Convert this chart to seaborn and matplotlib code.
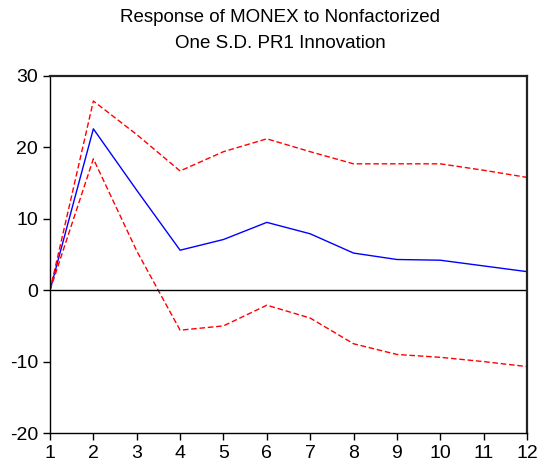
import matplotlib
matplotlib.use("Agg")
import matplotlib.pyplot as plt
import seaborn as sns
import pandas as pd

periods = [1, 2, 3, 4, 5, 6, 7, 8, 9, 10, 11, 12]
response = [0.0, 22.6, 14.0, 5.6, 7.1, 9.5, 7.9, 5.2, 4.3, 4.2, 3.4, 2.6]
upper = [0.0, 26.5, 21.8, 16.7, 19.4, 21.2, 19.4, 17.7, 17.7, 17.7, 16.8, 15.8]
lower = [0.0, 18.4, 5.5, -5.6, -5.0, -2.1, -3.9, -7.5, -9.0, -9.4, -10.0, -10.7]
yticks = [-20, -10, 0, 10, 20, 30]

df = pd.DataFrame({"period": periods, "response": response, "upper": upper, "lower": lower})

sns.set_style("white")
plt.rcParams["font.family"] = ["Liberation Sans", "DejaVu Sans"]
plt.rcParams["axes.unicode_minus"] = False
plt.rcParams["text.color"] = "black"

fig = plt.figure(figsize=(5.39, 4.66), dpi=100)
ax = fig.add_axes([50 / 539, 1 - 433 / 466, 477 / 539, 357 / 466])

sns.lineplot(data=df, x="period", y="response", ax=ax, color="#0000ff", linewidth=1.0)
sns.lineplot(data=df, x="period", y="upper", ax=ax, color="#ff0000", linewidth=1.0, linestyle=(0, (4, 2)))
sns.lineplot(data=df, x="period", y="lower", ax=ax, color="#ff0000", linewidth=1.0, linestyle=(0, (4, 2)))
ax.axhline(0, color="black", linewidth=1.0)

ax.set_xlim(1, 12)
ax.set_ylim(-20, 30)
ax.set_xticks(periods)
ax.set_yticks(yticks)
ax.set_xlabel("")
ax.set_ylabel("")
ax.tick_params(axis="both", which="both", direction="out", length=5, width=1,
               labelsize=14, colors="black", left=True, bottom=True)
for side in ["left", "bottom"]:
    ax.spines[side].set_linewidth(1.0)
    ax.spines[side].set_color("black")
for side in ["top", "right"]:
    ax.spines[side].set_linewidth(1.6)
    ax.spines[side].set_color("#222222")

fig.text(280 / 539, 1 - 18 / 466, "Response of MONEX to Nonfactorized", ha="center", va="center",
         fontsize=13.5, color="black")
fig.text(280 / 539, 1 - 44 / 466, "One S.D. PR1 Innovation", ha="center", va="center",
         fontsize=13.5, color="black")

fig.savefig("out.png", dpi=100)
